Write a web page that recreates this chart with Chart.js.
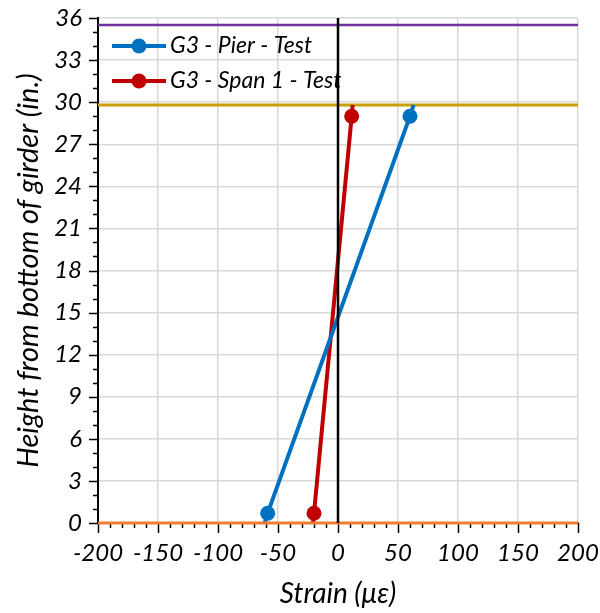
<!DOCTYPE html>
<html><head><meta charset="utf-8">
<script src="https://cdn.jsdelivr.net/npm/chart.js@4/dist/chart.umd.min.js"></script>
<style>html,body{margin:0;padding:0;background:#fff}#wrap{width:600px;height:613px}</style>
</head><body><div id="wrap"><canvas id="c" width="600" height="613"></canvas></div>
<script>
// Data
const pierStrain = [-61.1, -58.6, 60, 63.0];
const pierHeight = [0, 0.7, 29, 29.8];
const spanStrain = [-20.8, -20, 11.4, 12.2];
const spanHeight = [0, 0.7, 29, 29.8];
const markerShown = [0, 1, 1, 0];
const refPurpleY = 35.5;
const refGoldY = 29.8;
const refOrangeY = 0;
const xRange = [-200, 200];
const yRange = [0, 36];
const seriesNames = ['G3 - Pier - Test', 'G3 - Span 1 - Test'];

const FONT = 'Lato, "Open Sans", sans-serif';
const pts = (xs, ys) => xs.map((x, i) => ({x, y: ys[i]}));
const hline = y => [{x: xRange[0], y}, {x: xRange[1], y}];

const minorTicks = {
  id: 'minorTicks',
  beforeDatasetsDraw(chart) {
    const {ctx, scales: {x, y}} = chart;
    ctx.save();
    ctx.strokeStyle = '#000';
    ctx.lineWidth = 1.5;
    for (let v = yRange[0]; v <= yRange[1] + 1e-9; v += 1) {
      const py = Math.round(y.getPixelForValue(v)) + 0.5;
      const len = (v % 3 === 0) ? 9 : 5;
      ctx.beginPath(); ctx.moveTo(x.left - len, py); ctx.lineTo(x.left, py); ctx.stroke();
    }
    for (let v = xRange[0]; v <= xRange[1] + 1e-9; v += 10) {
      const px = Math.round(x.getPixelForValue(v)) + 0.5;
      const len = (v % 50 === 0) ? 10 : 5;
      ctx.beginPath(); ctx.moveTo(px, y.bottom); ctx.lineTo(px, y.bottom + len); ctx.stroke();
    }
    ctx.restore();
  }
};

const legendPlugin = {
  id: 'customLegend',
  afterDatasetsDraw(chart) {
    const {ctx} = chart;
    const items = [[seriesNames[0], '#0070C0'], [seriesNames[1], '#C00000']];
    ctx.save();
    items.forEach((it, i) => {
      const yy = 46 + i * 35;
      ctx.strokeStyle = it[1]; ctx.lineWidth = 4;
      ctx.beginPath(); ctx.moveTo(112, yy); ctx.lineTo(166, yy); ctx.stroke();
      ctx.fillStyle = it[1];
      ctx.beginPath(); ctx.arc(139, yy, 7.5, 0, Math.PI * 2); ctx.fill();
      ctx.fillStyle = '#000';
      ctx.font = 'italic 23px ' + FONT;
      ctx.textBaseline = 'middle';
      ctx.fillText(it[0], 170, yy);
    });
    ctx.restore();
  }
};

new Chart(document.getElementById('c'), {
  type: 'line',
  data: {
    datasets: [
      {label: seriesNames[0], data: pts(pierStrain, pierHeight), borderColor: '#0070C0', backgroundColor: '#0070C0',
        borderWidth: 4, pointRadius: markerShown.map(m => m ? 7.5 : 0), pointBorderWidth: 0, order: 1, clip: 10},
      {label: seriesNames[1], data: pts(spanStrain, spanHeight), borderColor: '#C00000', backgroundColor: '#C00000',
        borderWidth: 4, pointRadius: markerShown.map(m => m ? 7.5 : 0), pointBorderWidth: 0, order: 1, clip: 10},
      {label: 'zero', data: [{x: 0, y: yRange[0]}, {x: 0, y: yRange[1]}], borderColor: '#000', borderWidth: 2.5, pointRadius: 0, order: 0, clip: 10},
      {label: 'purple', data: hline(refPurpleY), borderColor: '#7030A0', borderWidth: 2.5, pointRadius: 0, order: 2, clip: 10},
      {label: 'gold', data: hline(refGoldY), borderColor: '#C9A000', borderWidth: 3, pointRadius: 0, order: 2, clip: 10},
      {label: 'orange', data: hline(refOrangeY), borderColor: '#ED7D31', borderWidth: 3, pointRadius: 0, order: 0, clip: 10}
    ]
  },
  options: {
    responsive: false, animation: false,
    layout: {padding: {top: 18, right: 22, left: 0, bottom: 0}},
    plugins: {legend: {display: false}, tooltip: {enabled: false}},
    scales: {
      x: {
        type: 'linear', min: xRange[0], max: xRange[1],
        ticks: {stepSize: 50, color: '#000', font: {family: FONT, size: 24, style: 'italic'}, padding: 16, maxRotation: 0, autoSkip: false},
        grid: {color: '#d9d9d9', lineWidth: 1.5, drawTicks: false},
        border: {color: '#000', width: 2},
        title: {display: true, text: 'Strain (με)', color: '#000', font: {family: FONT, size: 28, style: 'italic'}, padding: {top: 2, bottom: 2}},
        afterFit(s) { s.height = 90; s.paddingLeft = 0; s.paddingRight = 0; }
      },
      y: {
        type: 'linear', min: yRange[0], max: yRange[1],
        ticks: {stepSize: 3, color: '#000', font: {family: FONT, size: 24, style: 'italic'}, padding: 16, autoSkip: false},
        grid: {color: '#d9d9d9', lineWidth: 1.5, drawTicks: false},
        border: {color: '#000', width: 2},
        title: {display: true, text: 'Height from bottom of girder (in.)', color: '#000', font: {family: FONT, size: 29, style: 'italic'}, padding: {top: 11, bottom: 2}},
        afterFit(s) { s.width = 98; s.paddingTop = 0; s.paddingBottom = 0; }
      }
    }
  },
  plugins: [minorTicks, legendPlugin]
});
</script></body></html>
